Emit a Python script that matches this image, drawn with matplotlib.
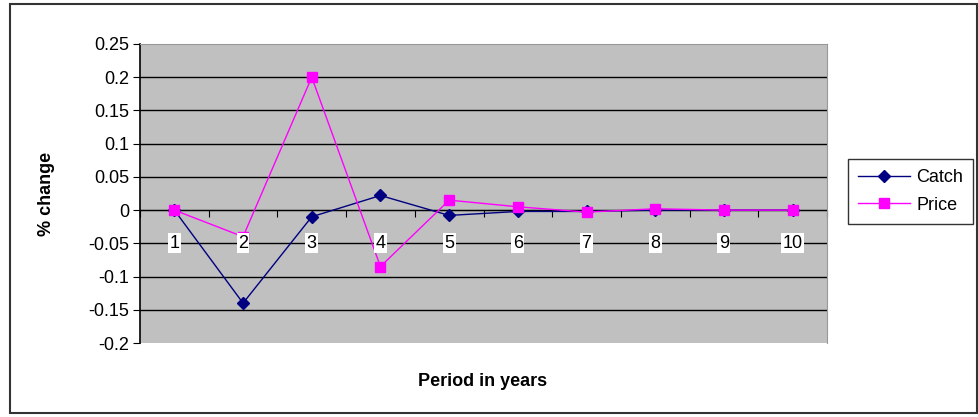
import numpy as np
import matplotlib
matplotlib.use("Agg")
import matplotlib.pyplot as plt
from matplotlib.patches import Rectangle

plt.rcParams['font.family'] = ['Liberation Sans', 'DejaVu Sans']
plt.rcParams['axes.unicode_minus'] = False

periods = [1, 2, 3, 4, 5, 6, 7, 8, 9, 10]
catch = [0.0, -0.14, -0.01, 0.022, -0.008, -0.002, -0.002, 0.0, 0.0, 0.0]
price = [0.0, -0.04, 0.2, -0.085, 0.015, 0.005, -0.003, 0.002, 0.0, 0.0]
yticks = [-0.2, -0.15, -0.1, -0.05, 0, 0.05, 0.1, 0.15, 0.2, 0.25]

fs = 13

fig = plt.figure(figsize=(9.79, 4.17), dpi=100)
ax = fig.add_axes([140/979, 1-343/417, (827-140)/979, (343-44)/417])
ax.set_facecolor('#C0C0C0')

x = np.arange(len(periods))
ax.set_xlim(-0.5, len(periods) - 0.5)
ax.set_ylim(-0.2, 0.25)

# gridlines
for yv in yticks[1:-1]:
    ax.axhline(yv, color='black', lw=1, zorder=1)

ax.plot(x, catch, color='#000080', marker='D', markersize=6, lw=1, label='Catch', zorder=3)
ax.plot(x, price, color='#FF00FF', marker='s', markersize=7, lw=1, label='Price', zorder=3)

# category labels sitting below the zero axis
for xi, p in zip(x, periods):
    ax.text(xi, -0.05, str(p), ha='center', va='center', fontsize=fs,
            bbox=dict(facecolor='white', edgecolor='none', pad=1), zorder=4)

ax.set_yticks(yticks)
ax.set_yticklabels(['%g' % v for v in yticks], fontsize=fs)
ax.tick_params(axis='y', direction='out', length=5, color='black', pad=3)

# x axis at zero with ticks between categories
ax.spines['bottom'].set_position(('data', 0))
ax.spines['bottom'].set_color('black')
ax.spines['bottom'].set_zorder(2)
ax.set_xticks(np.arange(len(periods) + 1) - 0.5)
ax.set_xticklabels([])
ax.tick_params(axis='x', direction='out', length=5, color='black')

ax.spines['left'].set_color('black')
ax.spines['left'].set_linewidth(1.2)
ax.spines['top'].set_color('#999999')
ax.spines['right'].set_color('#999999')

ax.set_ylabel('% change', fontsize=fs, fontweight='bold')
ax.yaxis.set_label_coords((55-140)/687, 0.5)
fig.text(483/979, 1-382/417, 'Period in years', ha='center', va='center',
         fontsize=fs, fontweight='bold')

leg = fig.legend(loc='upper left', bbox_to_anchor=(848/979, 1-159/417),
                 fontsize=fs, frameon=True, fancybox=False, edgecolor='black',
                 borderpad=0.55, handlelength=2.9, handletextpad=0.35, labelspacing=0.6,
                 borderaxespad=0)
leg.get_frame().set_linewidth(1)

fig.patches.append(Rectangle((10/979, 4/417), 967/979, 409/417, transform=fig.transFigure,
                             fill=False, edgecolor='#333333', lw=1.5))

fig.savefig('out.png', dpi=100)
